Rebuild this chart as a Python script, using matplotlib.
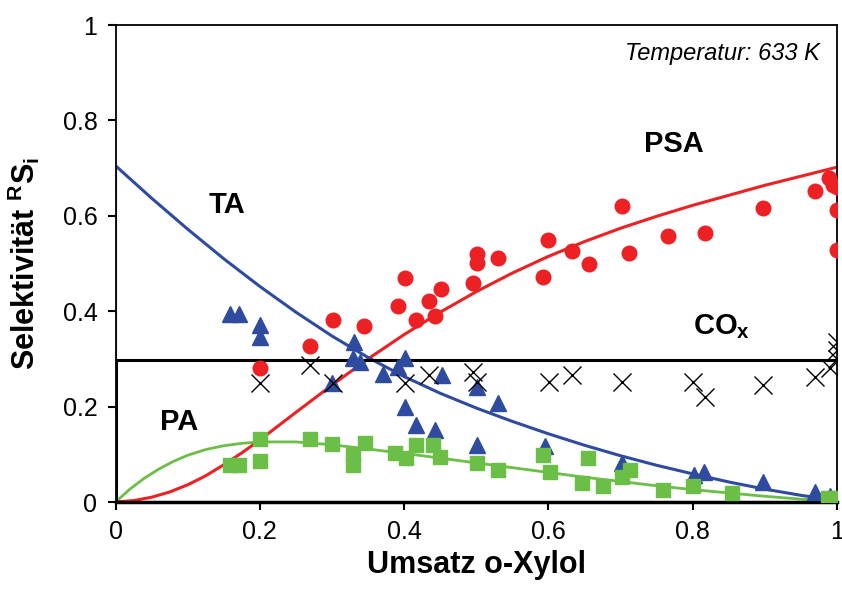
import matplotlib
matplotlib.use("Agg")
import matplotlib.pyplot as plt

plt.rcParams['font.family'] = ['Liberation Sans', 'DejaVu Sans']
plt.rcParams['mathtext.fontset'] = 'custom'
plt.rcParams['mathtext.rm'] = 'Liberation Sans'
plt.rcParams['mathtext.bf'] = 'Liberation Sans:bold'
plt.rcParams['mathtext.it'] = 'Liberation Sans:italic'

# ---------------- measured data ----------------
psa_x = [0.200, 0.270, 0.301, 0.345, 0.391, 0.401, 0.417, 0.435, 0.443, 0.451, 0.495, 0.501, 0.501, 0.530,
         0.593, 0.600, 0.633, 0.656, 0.702, 0.712, 0.766, 0.817, 0.897, 0.970, 0.989, 0.994, 1.0, 1.0, 1.0]
psa_y = [0.281, 0.327, 0.382, 0.369, 0.411, 0.470, 0.382, 0.421, 0.390, 0.447, 0.459, 0.501, 0.520, 0.512,
         0.472, 0.549, 0.526, 0.499, 0.621, 0.522, 0.558, 0.564, 0.616, 0.652, 0.679, 0.665, 0.660, 0.612, 0.528]

ta_x = [0.159, 0.171, 0.200, 0.200, 0.300, 0.331, 0.329, 0.339, 0.371, 0.392, 0.401, 0.453, 0.401, 0.417,
        0.443, 0.501, 0.530, 0.501, 0.595, 0.702, 0.802, 0.816, 0.897, 0.970, 0.990]
ta_y = [0.394, 0.394, 0.371, 0.346, 0.249, 0.335, 0.302, 0.294, 0.268, 0.283, 0.302, 0.266, 0.199, 0.161,
        0.151, 0.241, 0.208, 0.119, 0.117, 0.082, 0.057, 0.063, 0.042, 0.021, 0.012]

pa_x = [0.159, 0.171, 0.200, 0.200, 0.270, 0.300, 0.329, 0.329, 0.346, 0.387, 0.403, 0.417, 0.440, 0.450,
        0.501, 0.530, 0.593, 0.602, 0.655, 0.647, 0.676, 0.702, 0.713, 0.759, 0.801, 0.855, 0.988, 0.997, 1.0]
pa_y = [0.078, 0.078, 0.086, 0.132, 0.132, 0.122, 0.099, 0.078, 0.124, 0.103, 0.092, 0.119, 0.119, 0.094,
        0.082, 0.067, 0.099, 0.063, 0.092, 0.040, 0.034, 0.052, 0.067, 0.025, 0.034, 0.019, 0.008, 0.008, 0.004]

cox_x = [0.200, 0.270, 0.301, 0.401, 0.435, 0.495, 0.501, 0.601, 0.633, 0.702, 0.801, 0.817, 0.897, 0.970,
         0.990, 1.0, 1.0, 1.0]
cox_y = [0.249, 0.287, 0.249, 0.249, 0.266, 0.273, 0.251, 0.252, 0.266, 0.252, 0.252, 0.220, 0.245, 0.262,
         0.281, 0.300, 0.318, 0.335]

# model curves
psa_fit_x = [0, 0.025, 0.05, 0.075, 0.1, 0.125, 0.15, 0.175, 0.2, 0.25, 0.3, 0.35, 0.4, 0.45, 0.5, 0.55,
             0.6, 0.65, 0.7, 0.75, 0.8, 0.85, 0.9, 0.95, 1.0]
psa_fit_y = [0, 0.003, 0.010, 0.021, 0.036, 0.055, 0.078, 0.103, 0.130, 0.188, 0.245, 0.300, 0.351, 0.398,
             0.441, 0.480, 0.515, 0.546, 0.574, 0.599, 0.622, 0.643, 0.664, 0.683, 0.702]

ta_fit_x = [0, 0, 0.05, 0.1, 0.15, 0.2, 0.25, 0.3, 0.35, 0.4, 0.45, 0.5, 0.55, 0.6, 0.65, 0.7, 0.75, 0.8,
            0.85, 0.9, 0.95, 1.0]
ta_fit_y = [0, 0.705, 0.637, 0.572, 0.510, 0.452, 0.398, 0.348, 0.303, 0.263, 0.228, 0.197, 0.169, 0.143,
            0.119, 0.097, 0.077, 0.059, 0.042, 0.027, 0.014, 0.003]

pa_fit_x = [0, 0.02, 0.04, 0.06, 0.08, 0.1, 0.125, 0.15, 0.175, 0.2, 0.25, 0.3, 0.35, 0.4, 0.45, 0.5, 0.55,
            0.6, 0.65, 0.7, 0.75, 0.8, 0.85, 0.9, 0.95, 1.0]
pa_fit_y = [0, 0.027, 0.050, 0.069, 0.085, 0.098, 0.110, 0.118, 0.123, 0.126, 0.126, 0.120, 0.111, 0.102,
            0.092, 0.082, 0.072, 0.062, 0.052, 0.043, 0.034, 0.026, 0.019, 0.012, 0.006, 0.002]

cox_fit_x = [0, 0, 1.0]
cox_fit_y = [0, 0.298, 0.298]

tick_vals = [0, 0.2, 0.4, 0.6, 0.8, 1.0]
tick_labels = ['0', '0.2', '0.4', '0.6', '0.8', '1']

RED = '#ED2024'
BLUE = '#2E4B9F'
GREEN = '#6BBE46'

fig = plt.figure(figsize=(8.42, 6.06), dpi=100)
ax = fig.add_axes([0.1372, 0.1716, 0.8569, 0.7871])

ax.plot(pa_fit_x, pa_fit_y, color=GREEN, lw=2.0, zorder=2, solid_joinstyle='round')
ax.plot(psa_fit_x, psa_fit_y, color=RED, lw=2.2, zorder=2, solid_joinstyle='round')
ax.plot(ta_fit_x, ta_fit_y, color=BLUE, lw=2.2, zorder=2, solid_joinstyle='round')
ax.plot(cox_fit_x, cox_fit_y, color='black', lw=2.2, zorder=2)

ax.plot(ta_x, ta_y, ls='none', marker='^', ms=11, color=BLUE, mec=BLUE, zorder=3)
ax.plot(psa_x, psa_y, ls='none', marker='o', ms=10.5, color=RED, mec=RED, zorder=3)
ax.plot(pa_x, pa_y, ls='none', marker='s', ms=9.5, color=GREEN, mec=GREEN, zorder=4)
ax.plot(cox_x, cox_y, ls='none', marker='x', ms=12.5, mew=1.0, color='black', zorder=5)

ax.set_xlim(0, 1)
ax.set_ylim(0, 1)
ax.set_xticks(tick_vals)
ax.set_xticklabels(tick_labels)
ax.set_yticks(tick_vals)
ax.set_yticklabels(tick_labels)
ax.tick_params(direction='out', length=6, width=1.5, labelsize=18, pad=7, colors='black')

for s in ['top', 'right', 'left']:
    ax.spines[s].set_linewidth(1.3)
ax.spines['bottom'].set_linewidth(2.5)

ax.set_xlabel('Umsatz o-Xylol', fontsize=22, fontweight='bold')
ax.set_ylabel(r'Selektivität ${}^{\mathbf{R}}\mathbf{S}_{\mathbf{i}}$', fontsize=22, fontweight='bold')
ax.xaxis.set_label_coords(0.501, -0.100)
ax.yaxis.set_label_coords(-0.102, 0.5)

ax.text(0.154, 0.623, 'TA', fontsize=21, fontweight='bold', ha='center', va='center')
ax.text(0.774, 0.751, 'PSA', fontsize=21, fontweight='bold', ha='center', va='center')
ax.text(0.088, 0.168, 'PA', fontsize=21, fontweight='bold', ha='center', va='center')
ax.text(0.800, 0.352, r'CO$_{\mathbf{x}}$', fontsize=21, fontweight='bold', ha='left', va='baseline')
ax.text(0.976, 0.941, 'Temperatur: 633 K', fontsize=17, style='italic', ha='right', va='center')

fig.savefig('out.png', dpi=100)
